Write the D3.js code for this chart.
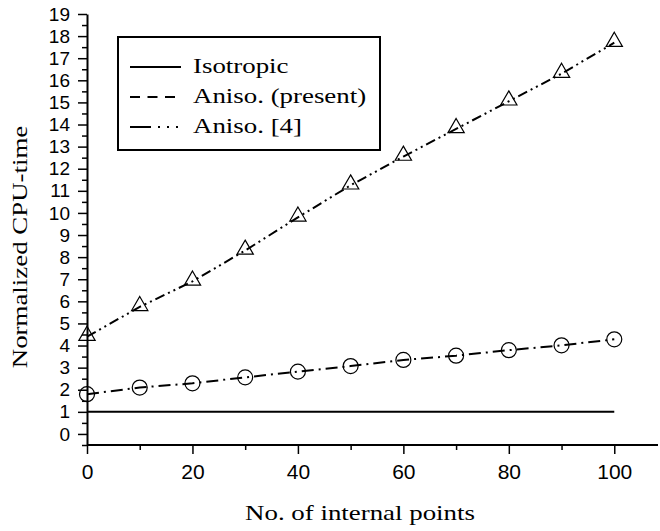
<!DOCTYPE html>
<html>
<head>
<meta charset="utf-8">
<script src="https://cdn.jsdelivr.net/npm/d3@7"></script>
<style>
  body { margin: 0; background: #fff; }
  .tick text { font-family: "Liberation Sans", Arial, sans-serif; fill: #000; }
  .x-axis .tick text { font-size: 21px; }
  .y-axis .tick text { font-size: 19px; }
  .title { font-family: "Liberation Serif", "Times New Roman", serif; font-size: 21px; fill: #000; }
</style>
</head>
<body>
<div id="chart"></div>
<script>
let pointsX = [0, 10, 20, 30, 40, 50, 60, 70, 80, 90, 100];

let isoValues = [1, 1, 1, 1, 1, 1, 1, 1, 1, 1, 1];

let triValues = [4.4, 5.75, 6.9, 8.3, 9.8, 11.25, 12.55, 13.8, 15.05, 16.3, 17.7];

let circValues = [1.8, 2.1, 2.29, 2.56, 2.82, 3.07, 3.35, 3.54, 3.79, 4.01, 4.28];

let legendLabels = ["Isotropic", "Aniso. (present)", "Aniso. [4]"];

let legendDash = ["none", "10,7.5", "21,7,2,7,2,7,2,30"];

let legendLen = [51, 45, 62];

let stretch = 1.28;

let margin = {container_width: 660, container_height: 531, top: 14, right: 0, bottom: 86, left: 87},
    width = margin.container_width - margin.left - margin.right,
    height = margin.container_height - margin.top - margin.bottom;

let svg = d3.select("#chart")
    .append("svg")
    .attr("width", margin.container_width)
    .attr("height", margin.container_height)
    .append("g")
    .attr("transform", "translate(" + margin.left + "," + margin.top + ")");

let x = d3.scaleLinear()
    .domain([0, 110])
    .range([0, 580]);

let y = d3.scaleLinear()
    .domain([-0.5, 19])
    .range([height, 0]);

// minor ticks first, then major ticks with labels
svg.append("g")
    .attr("transform", "translate(0," + height + ")")
    .call(d3.axisBottom(x).tickValues(d3.range(10, 110, 20)).tickSize(5).tickFormat(""))
    .call(g => g.select(".domain").remove());

let xAxis = svg.append("g")
    .attr("class", "x-axis")
    .attr("transform", "translate(0," + height + ")")
    .call(d3.axisBottom(x).tickValues(d3.range(0, 101, 20)).tickSize(9).tickSizeOuter(0).tickPadding(10));

xAxis.select(".domain").attr("d", "M0,0H" + (width - 2)).attr("stroke-width", 2);

svg.append("g")
    .call(d3.axisLeft(y).tickValues(d3.range(-0.5, 19, 1)).tickSize(5).tickFormat(""))
    .call(g => g.select(".domain").remove());

let yAxis = svg.append("g")
    .attr("class", "y-axis")
    .call(d3.axisLeft(y).tickValues(d3.range(0, 20, 1)).tickSize(9).tickSizeOuter(0).tickPadding(8));

yAxis.select(".domain").attr("stroke-width", 2);
svg.selectAll(".tick line").attr("stroke-width", 1.5);

svg.append("text")
    .attr("class", "title")
    .attr("text-anchor", "middle")
    .attr("transform", "translate(273,506) scale(" + stretch + ",1)")
    .text("No. of internal points");

svg.append("text")
    .attr("class", "title")
    .attr("text-anchor", "middle")
    .attr("transform", "translate(" + (-60) + "," + (247 - margin.top) + ") rotate(-90) scale(" + stretch + ",1)")
    .text("Normalized CPU-time");

let line = d3.line()
    .x(function(d, i) { return x(pointsX[i]); })
    .y(function(d) { return y(d); });

svg.append("path")
    .datum(isoValues)
    .attr("fill", "none")
    .attr("stroke", "#000")
    .attr("stroke-width", 2)
    .attr("d", line);

svg.append("path")
    .datum(triValues)
    .attr("fill", "none")
    .attr("stroke", "#000")
    .attr("stroke-width", 2)
    .attr("stroke-dasharray", "10,4,2,4,2,4")
    .attr("d", line);

svg.append("path")
    .datum(circValues)
    .attr("fill", "none")
    .attr("stroke", "#000")
    .attr("stroke-width", 2)
    .attr("stroke-dasharray", "12,5,2,5")
    .attr("d", line);

let tri = d3.symbol().type(d3.symbolTriangle).size(115);

svg.append("g")
    .selectAll("path")
    .data(triValues)
    .enter()
    .append("path")
    .attr("transform", function(d, i) { return "translate(" + x(pointsX[i]) + "," + (y(d) - 1) + ")"; })
    .attr("d", tri)
    .attr("fill", "none")
    .attr("stroke", "#000")
    .attr("stroke-width", 1.2);

svg.append("g")
    .selectAll("circle")
    .data(circValues)
    .enter()
    .append("circle")
    .attr("cx", function(d, i) { return x(pointsX[i]); })
    .attr("cy", function(d) { return y(d); })
    .attr("r", 7.5)
    .attr("fill", "none")
    .attr("stroke", "#000")
    .attr("stroke-width", 1.2);

// legend
let legend = svg.append("g")
    .attr("transform", "translate(" + (118 - margin.left) + "," + (37 - margin.top) + ")");

legend.append("rect")
    .attr("width", 262)
    .attr("height", 113)
    .attr("fill", "#fff")
    .attr("stroke", "#000")
    .attr("stroke-width", 2);

legendLabels.forEach(function(label, i) {
    let ly = 30 + i * 30;
    legend.append("line")
        .attr("x1", 12).attr("x2", 12 + legendLen[i])
        .attr("y1", ly).attr("y2", ly)
        .attr("stroke", "#000")
        .attr("stroke-width", 2)
        .attr("stroke-dasharray", legendDash[i]);
    legend.append("text")
        .attr("class", "title")
        .attr("transform", "translate(75," + (ly + 6) + ") scale(" + stretch + ",1)")
        .text(label);
});
</script>
</body>
</html>
